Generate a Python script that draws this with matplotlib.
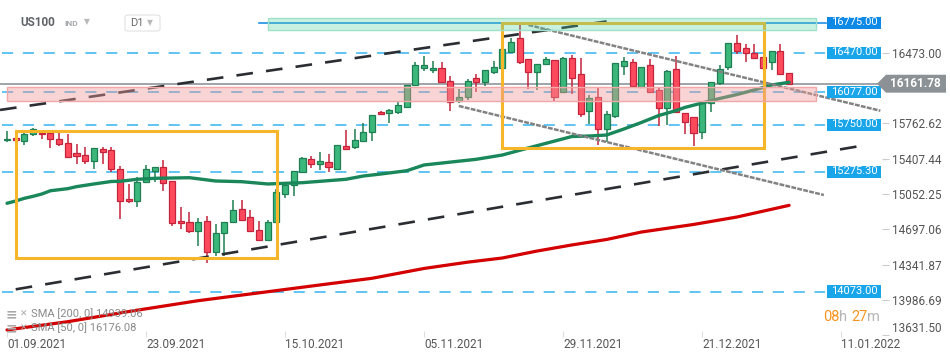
import matplotlib
matplotlib.use("Agg")
import matplotlib.pyplot as plt
from matplotlib.patches import Rectangle, Polygon, FancyBboxPatch
from matplotlib.transforms import blended_transform_factory
import numpy as np

plt.rcParams["font.family"] = ["Roboto", "DejaVu Sans"]
plt.rcParams["lines.scale_dashes"] = False

#? ---- data (US100, D1)
dates = ["01.09.2021", "23.09.2021", "15.10.2021", "05.11.2021", "29.11.2021", "21.12.2021", "11.01.2022"]
date_pos = [0, 16, 32, 48, 64, 80, 96]

opens = [15593, 15613, 15583, 15653, 15669, 15669, 15603, 15563, 15462, 15442,
         15388, 15503, 15492, 15302, 15000, 14978, 15171, 15288, 15322, 15184,
         14782, 14769, 14685, 14782, 14473, 14658, 14769, 14900, 14819, 14689,
         14591, 14769, 15050, 15144, 15277, 15402, 15352, 15378, 15302, 15533,
         15529, 15589, 15673, 15874, 15864, 15880, 15931, 16144, 16323, 16297,
         16317, 16189, 15991, 16031, 16216, 16182, 16282, 16317, 16477, 16618,
         16407, 16282, 16357, 16397, 16083, 16417, 16257, 15891, 16025, 15704,
         15840, 16335, 16377, 16132, 16350, 16099, 15921, 16310, 15864, 15830,
         15673, 15965, 16172, 16327, 16568, 16518, 16467, 16433, 16377, 16493,
         16266]
highs = [15686, 15620, 15679, 15714, 15679, 15679, 15663, 15656, 15556, 15523,
         15513, 15523, 15523, 15332, 15157, 15224, 15345, 15322, 15395, 15184,
         14926, 14875, 14809, 14832, 14752, 14769, 14993, 14993, 14889, 14782,
         14789, 15104, 15144, 15288, 15422, 15435, 15475, 15452, 15543, 15697,
         15707, 15764, 15844, 15887, 15908, 15975, 16149, 16375, 16443, 16390,
         16380, 16239, 16106, 16209, 16259, 16300, 16390, 16511, 16624, 16752,
         16407, 16357, 16433, 16397, 16433, 16450, 16417, 16048, 16116, 15887,
         16367, 16430, 16408, 16327, 16407, 16126, 16300, 16443, 15864, 15830,
         15965, 16176, 16350, 16568, 16651, 16561, 16561, 16433, 16493, 16561,
         16266]
lows = [15579, 15588, 15549, 15636, 15611, 15519, 15536, 15428, 15352, 15352,
        15308, 15358, 15277, 14805, 14966, 14926, 15171, 15177, 15086, 14732,
        14701, 14664, 14534, 14363, 14430, 14430, 14769, 14782, 14678, 14591,
        14591, 14769, 15016, 15036, 15277, 15318, 15295, 15271, 15302, 15503,
        15509, 15589, 15589, 15854, 15770, 15854, 15931, 16144, 16289, 16272,
        16169, 15887, 15971, 15998, 16078, 16139, 16262, 16317, 16477, 16360,
        16109, 16099, 16357, 15991, 16083, 16056, 15824, 15760, 15541, 15571,
        15820, 16249, 16132, 16132, 16081, 15740, 15747, 15867, 15653, 15536,
        15603, 15880, 16149, 16300, 16457, 16383, 16417, 16317, 16300, 16259,
        16161.78]
closes = [15611, 15593, 15656, 15704, 15656, 15603, 15553, 15428, 15438, 15388,
          15513, 15478, 15308, 14980, 14980, 15174, 15302, 15322, 15161, 14759,
          14759, 14678, 14769, 14473, 14658, 14769, 14889, 14792, 14678, 14591,
          14769, 15070, 15144, 15288, 15412, 15352, 15385, 15328, 15543, 15509,
          15596, 15673, 15844, 15854, 15898, 15945, 16149, 16350, 16350, 16323,
          16182, 15975, 16031, 16189, 16182, 16300, 16327, 16511, 16578, 16383,
          16282, 16357, 16407, 16031, 16417, 16224, 15854, 16015, 15704, 15854,
          16367, 16390, 16142, 16327, 16081, 15915, 16289, 15880, 15774, 15663,
          15965, 16176, 16307, 16568, 16493, 16467, 16417, 16317, 16493, 16259,
          16161.78]

sma50_idx = [0, 1, 2, 3, 4, 5, 7, 8, 10, 12, 13, 15, 17, 21, 24, 27, 30, 34, 39, 41,
             43, 46, 48, 54, 57, 60, 65, 67, 69, 71, 73, 75, 77, 78, 80, 82, 84, 86, 88, 90]
sma50_val = [14960, 14983, 15010, 15030, 15053, 15086, 15107, 15127, 15154, 15179,
             15181, 15201, 15211, 15217, 15184, 15177, 15154, 15167, 15201, 15234,
             15254, 15287, 15345, 15402, 15445, 15516, 15631, 15636, 15646, 15707,
             15772, 15842, 15892, 15923, 15968, 16013, 16053, 16099, 16149, 16176.08]
sma200_idx = [0, 7, 14, 22, 30, 36, 42, 48, 53, 57, 61, 65, 69, 73, 79, 84, 90]
sma200_val = [13687, 13770, 13872, 13981, 14071, 14139, 14206, 14305, 14368, 14410,
              14480, 14541, 14596, 14671, 14747, 14822, 14939.06]

levels = [16775.00, 16470.00, 16077.00, 15750.00, 15275.30, 14073.00]
yticks = [16473.00, 15762.62, 15407.44, 15052.25, 14697.06, 14341.87, 13986.69, 13631.50]
last_price = 16161.78

# trend lines: ([bar, bar], [price, price])
black_up = ([-0.8, 69.0], [15898, 16788])
black_low = ([1.0, 98.2], [14095, 15536])
grey_up = ([60.0, 100.5], [16752, 15890])
grey_low = ([52.0, 94.0], [15938, 15043])

# zones: (bar0, bar1, price_low, price_high)
green_zone = (30.0, 93.1, 16699, 16819)
pink_zone = (0.0, 93.1, 15985, 16126)
box1 = (1.0, 31.1, 14415, 15686)
box2 = (57.0, 87.1, 15511, 16772)

#? ---- figure
W, H = 950, 361
fig = plt.figure(figsize=(W / 100, H / 100), dpi=100)
ax = fig.add_axes([0, 1 - 337 / H, 882 / W, 337 / H])
ax.set_xlim(-0.806, 100.69)
ax.set_ylim(13616, 17003)
for s in ax.spines.values():
    s.set_visible(False)

g_fill, g_edge = "#3bb77b", "#1f7f52"
r_fill, r_edge = "#ff4a5e", "#c4243b"

o = np.array(opens, float)
h = np.array(highs, float)
l = np.array(lows, float)
c = np.array(closes, float)
x = np.arange(len(o))
up = c >= o
dn = ~up
ax.vlines(x[up], l[up], h[up], color=g_edge, lw=1.1, zorder=3)
ax.vlines(x[dn], l[dn], h[dn], color=r_edge, lw=1.1, zorder=3)
ax.bar(x[up], np.maximum(c[up] - o[up], 12), bottom=o[up], width=0.7,
       color=g_fill, edgecolor=g_edge, lw=0.9, zorder=3.1)
ax.bar(x[dn], np.maximum(o[dn] - c[dn], 12), bottom=c[dn], width=0.7,
       color=r_fill, edgecolor=r_edge, lw=0.9, zorder=3.1)

# moving averages
ax.plot(sma200_idx, sma200_val, color="#d40000", lw=2.3, zorder=4, solid_capstyle="round")
ax.plot(sma50_idx, sma50_val, color="#19875a", lw=2.4, zorder=4, solid_capstyle="round")

# horizontal levels
for lv in levels[1:]:
    ax.plot([-0.58, 94.1], [lv, lv], color="#45b9f0", lw=1.2, dashes=(8, 7), zorder=2)
ax.plot([29.0, 94.3], [levels[0], levels[0]], color="#1e8fe6", lw=1.2, zorder=2)
ax.axhline(last_price, xmin=0, xmax=0.996, color="#8f959a", lw=1.2, zorder=2.5)

# trend lines
ax.plot(*black_up, color="#2a2e33", lw=1.9, dashes=(12, 9.5), zorder=5)
ax.plot(*black_low, color="#2a2e33", lw=1.9, dashes=(12, 9.5), zorder=5)
ax.plot(*grey_up, color="#828282", lw=1.8, dashes=(3.5, 0.9), zorder=5)
ax.plot(*grey_low, color="#828282", lw=1.8, dashes=(3.5, 0.9), zorder=5)

# orange boxes
for b in (box1, box2):
    ax.add_patch(Rectangle((b[0], b[2]), b[1] - b[0], b[3] - b[2], fill=False,
                           edgecolor="#f7b52a", lw=2.2, zorder=5))

# zones on top
gz = green_zone
ax.add_patch(Rectangle((gz[0], gz[2]), gz[1] - gz[0], gz[3] - gz[2],
                       facecolor=(0.31, 0.82, 0.63, 0.3), edgecolor="#9fe0c8", lw=1, zorder=6))
pz = pink_zone
ax.add_patch(Rectangle((pz[0], pz[2]), pz[1] - pz[0], pz[3] - pz[2],
                       facecolor=(0.94, 0.6, 0.6, 0.42), edgecolor="#f2a8a8", lw=1, zorder=6))

# price axis
ax.yaxis.tick_right()
ax.set_yticks(yticks, [f"{v:.2f}" for v in yticks])
ax.tick_params(axis="y", length=5, color="#cccccc", labelcolor="#555555", labelsize=8.5, pad=2)
ax.get_yticklabels()[-1].set_verticalalignment("bottom")
ax.set_xticks(date_pos, dates)
ax.tick_params(axis="x", direction="in", length=4, color="#dddddd", labelcolor="#555555",
               labelsize=8.5, pad=1)
for t in ax.get_xticklabels():
    t.set_horizontalalignment("left")

# level labels
tr = blended_transform_factory(ax.transAxes, ax.transData)
for lv in levels:
    col = "#0f89e6" if lv == levels[0] else "#19a5e9"
    ax.add_patch(Rectangle((827 / 882, lv - 62), 54 / 882, 124, transform=tr, facecolor=col,
                           edgecolor="none", clip_on=False, zorder=8))
    ax.text(854 / 882, lv + 6, f"{lv:.2f}", transform=tr, color="white", fontsize=8,
            ha="center", va="center", zorder=9, clip_on=False)

trf = blended_transform_factory(fig.transFigure, ax.transData)
P = last_price
ax.add_patch(Polygon([(877 / W, P), (886 / W, P + 90), (946 / W, P + 90), (946 / W, P - 90),
                      (886 / W, P - 90)], closed=True, transform=trf, facecolor="#8b9195",
                     edgecolor="none", clip_on=False, zorder=8))
ax.text(915 / W, P + 6, f"{P:.2f}", transform=trf, color="white", fontsize=8.5,
        fontweight="bold", ha="center", va="center", zorder=9, clip_on=False)

# header
def fy(py):
    return 1 - py / H

fig.text(20 / W, fy(23), "US100", fontsize=8.5, fontweight="bold", color="#5f6368", va="center")
fig.text(64 / W, fy(24), "IND", fontsize=6, fontweight="bold", color="#a5a9ad", va="center")
fig.text(84 / W, fy(22), "▼", fontsize=5.5, color="#b8b8b8", va="center")
fig.patches.append(FancyBboxPatch((125 / W, fy(31)), 35 / W, 16 / H,
                                  boxstyle="round,pad=0,rounding_size=0.004",
                                  transform=fig.transFigure, facecolor="white",
                                  edgecolor="#e2e2e2", lw=0.8))
fig.text(130 / W, fy(23), "D1", fontsize=8, color="#6a6a6a", va="center")
fig.text(147 / W, fy(23), "▼", fontsize=5.5, color="#b8b8b8", va="center")

# SMA legend
for py, txt in [(314, "SMA [200, 0] 14939.06"), (328, "SMA [50, 0] 16176.08")]:
    fig.text(6 / W, fy(py), "≡", fontsize=10, fontweight="bold", color="#a8a8a8", va="center")
    fig.text(20 / W, fy(py), "✕", fontsize=6.5, fontweight="bold", color="#a8a8a8", va="center")
    fig.text(31 / W, fy(py), txt, fontsize=8, color="#8a8a8a", va="center")

# countdown
r = fig.canvas.get_renderer()
xp = 823
for s, col in [("08", "#f7941d"), ("h ", "#b5b5b5"), ("27", "#f7941d"), ("m", "#b5b5b5")]:
    t = fig.text(xp / W, fy(317), s, fontsize=10.5, color=col, va="center", ha="left")
    xp += t.get_window_extent(r).width

fig.savefig("out.png", dpi=100)
